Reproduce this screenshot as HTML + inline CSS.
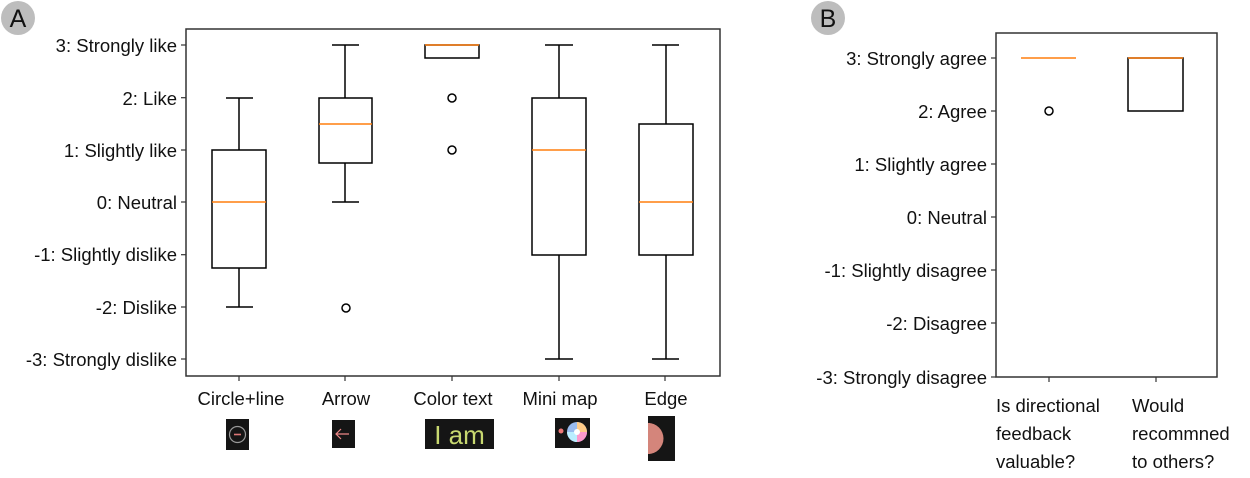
<!DOCTYPE html>
<html><head><style>
body{margin:0;background:#fff;width:1250px;height:473px;overflow:hidden}
svg text{font-family:"Liberation Sans",sans-serif;font-size:18.5px;fill:#111}
</style></head><body>
<svg width="1250" height="473" viewBox="0 0 1250 473" xmlns="http://www.w3.org/2000/svg">
<circle cx="18" cy="18" r="17" fill="#bdbdbd"/>
<text x="18" y="27" text-anchor="middle" style="font-size:25px">A</text>
<circle cx="828" cy="18" r="17" fill="#bdbdbd"/>
<text x="828" y="27" text-anchor="middle" style="font-size:25px">B</text>

<rect x="186" y="29" width="534" height="347" fill="none" stroke="#333" stroke-width="1.5"/>
<g stroke="#333" stroke-width="1.2">
<line x1="181" y1="45" x2="186" y2="45"/><line x1="181" y1="97.7" x2="186" y2="97.7"/>
<line x1="181" y1="150" x2="186" y2="150"/><line x1="181" y1="202" x2="186" y2="202"/>
<line x1="181" y1="254.7" x2="186" y2="254.7"/><line x1="181" y1="307" x2="186" y2="307"/>
<line x1="181" y1="359" x2="186" y2="359"/>
<line x1="239" y1="376" x2="239" y2="381"/><line x1="345" y1="376" x2="345" y2="381"/>
<line x1="452" y1="376" x2="452" y2="381"/><line x1="559" y1="376" x2="559" y2="381"/>
<line x1="665" y1="376" x2="665" y2="381"/>
</g>
<g text-anchor="end">
<text x="177" y="52">3: Strongly like</text>
<text x="177" y="105">2: Like</text>
<text x="177" y="157">1: Slightly like</text>
<text x="177" y="209">0: Neutral</text>
<text x="177" y="261">-1: Slightly dislike</text>
<text x="177" y="314">-2: Dislike</text>
<text x="177" y="366">-3: Strongly dislike</text>
</g>
<g text-anchor="middle">
<text x="241" y="405">Circle+line</text>
<text x="346" y="405">Arrow</text>
<text x="453" y="405">Color text</text>
<text x="560" y="405">Mini map</text>
<text x="666" y="405">Edge</text>
</g>

<g fill="none" stroke="#000" stroke-width="1.5">
<rect x="212" y="150" width="54" height="118"/>
<line x1="239" y1="98" x2="239" y2="150"/><line x1="226" y1="98" x2="253" y2="98"/>
<line x1="239" y1="268" x2="239" y2="307"/><line x1="226" y1="307" x2="253" y2="307"/>
<rect x="319" y="98" width="53" height="65"/>
<line x1="345" y1="45" x2="345" y2="98"/><line x1="332" y1="45" x2="359" y2="45"/>
<line x1="345" y1="163" x2="345" y2="202"/><line x1="332" y1="202" x2="359" y2="202"/>
<circle cx="346" cy="308" r="4"/>
<rect x="425" y="45" width="54" height="13"/>
<circle cx="452" cy="98" r="4"/><circle cx="452" cy="150" r="4"/>
<rect x="532" y="98" width="54" height="157"/>
<line x1="559" y1="45" x2="559" y2="98"/><line x1="545" y1="45" x2="573" y2="45"/>
<line x1="559" y1="255" x2="559" y2="359"/><line x1="545" y1="359" x2="573" y2="359"/>
<rect x="639" y="124" width="54" height="131"/>
<line x1="666" y1="45" x2="666" y2="124"/><line x1="652" y1="45" x2="679" y2="45"/>
<line x1="666" y1="255" x2="666" y2="359"/><line x1="652" y1="359" x2="679" y2="359"/>
</g>
<g stroke="#ff7f0e" stroke-width="1.5">
<line x1="212" y1="202" x2="266" y2="202"/>
<line x1="319" y1="124" x2="372" y2="124"/>
<line x1="425" y1="45" x2="479" y2="45"/>
<line x1="532" y1="150" x2="586" y2="150"/>
<line x1="639" y1="202" x2="693" y2="202"/>
</g>

<rect x="226" y="419" width="23" height="31" fill="#151515"/>
<circle cx="237.5" cy="434.5" r="8" fill="none" stroke="#999" stroke-width="1.2"/>
<line x1="234" y1="434.5" x2="241" y2="434.5" stroke="#d77" stroke-width="1.6"/>
<rect x="332" y="420" width="23" height="28" fill="#151515"/>
<path d="M349 434 H336 M341 429 L336 434 L341 439" stroke="#e88" stroke-width="1.2" fill="none"/>
<rect x="425" y="419" width="69" height="30" fill="#151515"/>
<text x="459.5" y="444" text-anchor="middle" style="font-size:26px;fill:#c8d870">I am</text>
<rect x="555" y="418" width="35" height="30" fill="#151515"/>
<circle cx="561" cy="431" r="2.5" fill="#e77"/>
<circle cx="577" cy="432" r="10" fill="#9be"/>
<path d="M577 432 L577 422 A10 10 0 0 1 587 432Z" fill="#fc8"/>
<path d="M577 432 L587 432 A10 10 0 0 1 577 442Z" fill="#f9c"/>
<path d="M577 432 L577 442 A10 10 0 0 1 567 432Z" fill="#bef"/>
<circle cx="577" cy="432" r="3" fill="#fff"/>
<rect x="648" y="416" width="27" height="45" fill="#151515"/>
<path d="M648 423 A15 15 0 0 1 648 454Z" fill="#d4857b"/>
<rect x="648" y="423" width="2" height="31" fill="#d4857b"/>

<rect x="996" y="33" width="221" height="344" fill="none" stroke="#333" stroke-width="1.5"/>
<g stroke="#333" stroke-width="1.2">
<line x1="991" y1="58" x2="996" y2="58"/><line x1="991" y1="111" x2="996" y2="111"/>
<line x1="991" y1="164" x2="996" y2="164"/><line x1="991" y1="217" x2="996" y2="217"/>
<line x1="991" y1="270" x2="996" y2="270"/><line x1="991" y1="323" x2="996" y2="323"/>
<line x1="991" y1="377" x2="996" y2="377"/>
<line x1="1049" y1="377" x2="1049" y2="382"/><line x1="1156" y1="377" x2="1156" y2="382"/>
</g>
<g text-anchor="end">
<text x="987" y="65">3: Strongly agree</text>
<text x="987" y="118">2: Agree</text>
<text x="987" y="171">1: Slightly agree</text>
<text x="987" y="224">0: Neutral</text>
<text x="987" y="277">-1: Slightly disagree</text>
<text x="987" y="330">-2: Disagree</text>
<text x="987" y="384">-3: Strongly disagree</text>
</g>
<text x="996" y="412">Is directional</text>
<text x="996" y="440">feedback</text>
<text x="996" y="468">valuable?</text>
<text x="1132" y="412">Would</text>
<text x="1132" y="440">recommned</text>
<text x="1132" y="468">to others?</text>
<rect x="1128" y="58" width="55" height="53" fill="none" stroke="#000" stroke-width="1.5"/>
<circle cx="1049" cy="111" r="4" fill="none" stroke="#000" stroke-width="1.5"/>
<line x1="1021" y1="58" x2="1076" y2="58" stroke="#ff7f0e" stroke-width="1.5"/>
<line x1="1128" y1="58" x2="1183" y2="58" stroke="#ff7f0e" stroke-width="1.5"/>
</svg>
</body></html>
